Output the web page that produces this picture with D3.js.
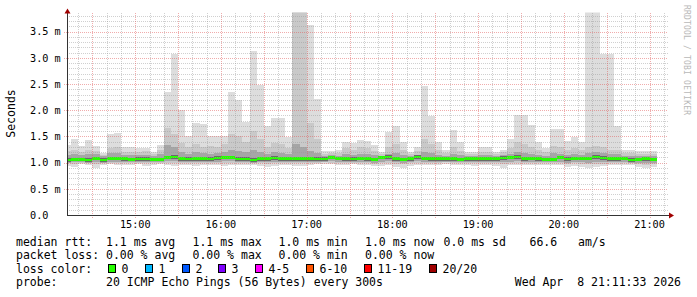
<!DOCTYPE html>
<html>
<head>
<meta charset="utf-8">
<style>
body { margin: 0; background: #fff; }
svg text { font-family: "DejaVu Sans Mono", monospace; fill: #000; }
.minor { stroke: rgba(150,150,150,0.45); stroke-dasharray: 1,1; shape-rendering: crispEdges; }
.major { stroke: rgba(225,90,90,0.5); stroke-dasharray: 1,1; shape-rendering: crispEdges; }
.axisLine { stroke: #333; shape-rendering: crispEdges; }
.smoke { shape-rendering: crispEdges; }
</style>
</head>
<body>
<div id="vis"></div>
<script src="https://cdn.jsdelivr.net/npm/d3@7"></script>
<script>
// time window and 5 minute rows
var startTime = new Date(2026, 3, 8, 14, 10);
var stepMinutes = 5;
var viewStart = new Date(2026, 3, 8, 14, 12, 15);
var viewEnd = new Date(2026, 3, 8, 21, 12, 15);
var hourLabels = ["15:00", "16:00", "17:00", "18:00", "19:00", "20:00", "21:00"];
var yTicks = [0, 0.5, 1.0, 1.5, 2.0, 2.5, 3.0, 3.5];

// median rtt (ms), one value per 5 minute row
var median = [1.05,1.062,1.062,1.05,1.081,1.05,1.081,1.081,1.075,1.062,
  1.069,1.069,1.062,1.062,1.10,1.107,1.075,1.069,1.075,1.075,
  1.069,1.088,1.10,1.10,1.069,1.069,1.05,1.075,1.075,1.088,
  1.075,1.075,1.075,1.075,1.075,1.069,1.069,1.10,1.081,1.075,
  1.069,1.081,1.075,1.056,1.10,1.107,1.075,1.056,1.075,1.107,
  1.081,1.075,1.075,1.075,1.075,1.056,1.075,1.075,1.075,1.075,
  1.075,1.088,1.094,1.107,1.075,1.081,1.075,1.062,1.062,1.10,
  1.069,1.081,1.081,1.081,1.107,1.088,1.075,1.075,1.081,1.05,
  1.062,1.075,1.056];

// smoke: outer band (min / max ping)
var outerLow = [0.93,0.92,0.97,0.96,0.90,0.95,0.97,0.96,0.95,0.96,
  0.97,0.93,0.95,0.97,0.95,0.94,0.96,0.96,0.93,0.95,
  0.96,0.95,0.94,0.96,0.96,0.95,0.96,0.93,0.92,0.93,
  0.96,0.96,0.94,0.93,0.96,0.97,0.97,0.97,0.96,0.96,
  0.97,0.96,0.95,0.93,0.93,0.95,0.92,0.90,0.94,0.96,
  0.95,0.96,0.96,0.97,0.95,0.96,0.95,0.94,0.96,0.96,
  0.93,0.89,0.95,0.96,0.95,0.96,0.96,0.95,0.95,0.96,
  0.92,0.93,0.92,0.90,0.91,0.93,0.95,0.96,0.95,0.95,
  0.91,0.89,0.91];
var outerHigh = [1.34,1.45,1.32,1.43,1.32,1.19,1.55,1.56,1.29,1.29,
  1.27,1.27,1.20,1.34,2.35,3.07,2.00,1.51,1.76,1.74,
  1.51,1.51,1.51,2.35,2.19,1.78,3.13,2.48,1.70,1.86,
  1.86,1.48,3.90,3.90,3.63,2.21,1.22,1.23,1.24,1.40,
  1.37,1.43,1.41,1.33,1.21,1.58,1.70,1.40,1.21,1.30,
  2.47,1.89,1.39,1.25,1.62,1.39,1.20,1.20,1.30,1.30,
  1.21,1.24,1.45,1.91,1.91,1.72,1.40,1.27,1.64,1.64,
  1.41,1.48,1.39,3.90,3.90,3.07,3.07,1.70,1.24,1.24,
  1.22,1.22,1.22];

// smoke: second band
var midLow = [0.99,0.98,1.0,0.99,0.97,0.99,1.0,1.0,0.99,1.0,
  1.0,0.99,0.99,1.0,1.0,0.99,1.0,1.0,0.99,1.0,
  1.0,1.0,0.99,1.0,1.0,0.99,1.0,0.99,0.98,0.99,
  1.0,1.0,0.99,0.99,1.0,1.0,1.01,1.0,1.0,1.0,
  1.0,1.0,0.99,0.98,0.99,0.99,0.98,0.97,0.99,1.0,
  1.0,1.0,1.0,1.01,0.99,1.0,0.99,0.99,1.0,1.0,
  0.99,0.97,0.99,1.0,0.99,1.0,1.0,0.99,0.99,1.0,
  0.98,0.99,0.98,0.97,0.98,0.98,0.99,1.0,0.99,0.99,
  0.97,0.96,0.97];
var midHigh = [1.22,1.25,1.20,1.24,1.22,1.15,1.28,1.30,1.20,1.20,
  1.20,1.22,1.17,1.24,1.66,1.55,1.38,1.30,1.35,1.30,
  1.32,1.30,1.35,1.55,1.50,1.40,1.60,1.45,1.30,1.38,
  1.35,1.28,3.90,3.90,1.75,1.45,1.17,1.18,1.18,1.28,
  1.25,1.30,1.28,1.22,1.16,1.30,1.35,1.25,1.16,1.22,
  1.45,1.35,1.25,1.18,1.30,1.22,1.16,1.16,1.20,1.20,
  1.17,1.20,1.27,1.40,1.35,1.30,1.25,1.20,1.32,1.30,
  1.25,1.28,1.24,1.30,1.32,1.30,1.25,1.25,1.18,1.18,
  1.17,1.17,1.17];

// smoke: third band
var innerLow = [1.0,1.01,1.01,1.0,1.02,1.0,1.02,1.02,1.01,1.01,
  1.01,1.01,1.01,1.01,1.03,1.03,1.02,1.01,1.01,1.02,
  1.01,1.02,1.03,1.03,1.01,1.01,1.0,1.01,1.01,1.02,
  1.02,1.02,1.01,1.01,1.02,1.02,1.02,1.03,1.02,1.02,
  1.02,1.02,1.01,1.0,1.02,1.03,1.01,1.0,1.01,1.03,
  1.02,1.02,1.02,1.02,1.01,1.01,1.01,1.01,1.02,1.02,
  1.01,1.01,1.02,1.03,1.01,1.02,1.02,1.01,1.01,1.02,
  1.0,1.01,1.01,1.0,1.02,1.01,1.01,1.02,1.02,1.0,
  1.0,1.0,1.0];
var innerHigh = [1.15,1.17,1.15,1.16,1.16,1.12,1.18,1.19,1.15,1.14,
  1.14,1.15,1.13,1.16,1.33,1.30,1.20,1.17,1.20,1.18,
  1.16,1.18,1.20,1.25,1.22,1.20,1.25,1.20,1.17,1.20,
  1.18,1.16,1.35,1.30,1.22,1.18,1.12,1.14,1.13,1.16,
  1.15,1.17,1.16,1.14,1.13,1.17,1.18,1.15,1.12,1.15,
  1.20,1.18,1.15,1.13,1.16,1.14,1.12,1.12,1.14,1.14,
  1.12,1.14,1.16,1.20,1.18,1.17,1.15,1.13,1.18,1.17,
  1.15,1.16,1.15,1.18,1.20,1.18,1.16,1.16,1.13,1.13,
  1.13,1.13,1.12];

// smoke: inner (darkest) band
var coreLow = [1.02,1.03,1.03,1.02,1.05,1.02,1.05,1.05,1.04,1.03,
  1.04,1.04,1.03,1.03,1.06,1.07,1.04,1.04,1.04,1.04,
  1.04,1.05,1.06,1.06,1.04,1.04,1.02,1.04,1.04,1.05,
  1.04,1.04,1.04,1.04,1.04,1.04,1.04,1.06,1.05,1.04,
  1.04,1.05,1.04,1.03,1.06,1.07,1.04,1.03,1.04,1.07,
  1.05,1.04,1.04,1.04,1.04,1.03,1.04,1.04,1.04,1.04,
  1.04,1.05,1.06,1.07,1.04,1.05,1.04,1.03,1.03,1.06,
  1.04,1.05,1.05,1.05,1.07,1.05,1.04,1.04,1.05,1.02,
  1.03,1.04,1.03];
var coreHigh = [1.08,1.09,1.09,1.08,1.11,1.08,1.11,1.11,1.10,1.09,
  1.10,1.10,1.09,1.09,1.13,1.14,1.10,1.10,1.10,1.10,
  1.10,1.12,1.13,1.13,1.10,1.10,1.08,1.10,1.10,1.12,
  1.10,1.10,1.11,1.11,1.10,1.10,1.10,1.13,1.11,1.10,
  1.10,1.11,1.10,1.09,1.13,1.14,1.10,1.09,1.10,1.14,
  1.11,1.10,1.10,1.10,1.10,1.09,1.10,1.10,1.10,1.10,
  1.10,1.12,1.12,1.14,1.10,1.11,1.10,1.09,1.09,1.13,
  1.10,1.11,1.11,1.11,1.14,1.12,1.10,1.10,1.11,1.08,
  1.09,1.10,1.09];

// legend
var medianStats = ["1.1 ms avg", "1.1 ms max", "1.0 ms min", "1.0 ms now", "0.0 ms sd", "66.6   am/s"];
var lossStats = ["0.00 % avg", "0.00 % max", "0.00 % min", "0.00 % now"];
var lossLabels = ["0", "1", "2", "3", "4-5", "6-10", "11-19", "20/20"];
var lossColors = ["#26ff00", "#00b8ff", "#0059ff", "#7e00ff", "#ff00ff", "#ff5500", "#ff0000", "#a00000"];
var probeText = "20 ICMP Echo Pings (56 Bytes) every 300s";
var stampText = "Wed Apr  8 21:11:33 2026";

var W = 697, H = 297;
var plotLeft = 67, plotRight = 667, plotTop = 12.5, plotBottom = 215;

var svg = d3.select("#vis").append("svg")
    .attr("width", W)
    .attr("height", H)
    .style("display", "block");

var x = d3.scaleTime().domain([viewStart, viewEnd]).range([plotLeft, plotRight]);
var y = d3.scaleLinear().domain([0, 3.866]).range([plotBottom, plotTop]);

svg.append("clipPath").attr("id", "plot")
  .append("rect").attr("x", plotLeft).attr("y", plotTop)
  .attr("width", plotRight + 1 - plotLeft).attr("height", plotBottom - plotTop);

// rows with a closing point so the steps end at the last row
var rows = median.map(function(m, i) { return { t: d3.timeMinute.offset(startTime, i * stepMinutes), i: i }; });
rows.push({ t: d3.timeMinute.offset(startTime, median.length * stepMinutes), i: median.length - 1 });

function band(lo, hi) {
  return d3.area().curve(d3.curveStepAfter)
    .x(function(d) { return x(d.t); })
    .y0(function(d) { return y(lo[d.i]); })
    .y1(function(d) { return y(hi[d.i]); });
}

var g = svg.append("g").attr("clip-path", "url(#plot)");
var bands = [
  [outerLow, outerHigh, "#dddddd"],
  [midLow, midHigh, "#c9c9c9"],
  [innerLow, innerHigh, "#a6a6a6"],
  [coreLow, coreHigh, "#6a6a6a"]
];
bands.forEach(function(b) {
  g.append("path").attr("class", "smoke").attr("d", band(b[0], b[1])(rows)).attr("fill", b[2]);
});

// median line coloured by loss (all rows had 0 loss)
g.append("path").attr("class", "smoke")
  .attr("d", d3.area().curve(d3.curveStepAfter)
    .x(function(d) { return x(d.t); })
    .y0(function(d) { return y(median[d.i]) + 1.2; })
    .y1(function(d) { return y(median[d.i]) - 1.2; })(rows))
  .attr("fill", lossColors[0]);

// grid
var yMinor = d3.range(1, 39).map(function(k) { return k / 10; }).filter(function(v) { return Math.round(v * 10) % 5 !== 0; });
svg.selectAll(".hminor").data(yMinor).enter().append("line")
  .attr("class", "minor")
  .attr("x1", plotLeft).attr("x2", plotRight + 1)
  .attr("y1", function(d) { return Math.round(y(d)) + 0.5; })
  .attr("y2", function(d) { return Math.round(y(d)) + 0.5; });
svg.selectAll(".hmajor").data(yTicks.slice(1)).enter().append("line")
  .attr("class", "major")
  .attr("x1", plotLeft - 3).attr("x2", plotRight + 1)
  .attr("y1", function(d) { return Math.round(y(d)) + 0.5; })
  .attr("y2", function(d) { return Math.round(y(d)) + 0.5; });

var tMinor = d3.timeMinute.every(10).range(viewStart, viewEnd).filter(function(d) { return d.getMinutes() % 30 !== 0; });
var tMajor = d3.timeMinute.every(30).range(viewStart, viewEnd);
svg.selectAll(".vminor").data(tMinor).enter().append("line")
  .attr("class", "minor")
  .attr("y1", plotTop).attr("y2", plotBottom)
  .attr("x1", function(d) { return Math.round(x(d)) + 0.5; })
  .attr("x2", function(d) { return Math.round(x(d)) + 0.5; });
svg.selectAll(".vmajor").data(tMajor).enter().append("line")
  .attr("class", "major")
  .attr("y1", plotTop).attr("y2", plotBottom + 3)
  .attr("x1", function(d) { return Math.round(x(d)) + 0.5; })
  .attr("x2", function(d) { return Math.round(x(d)) + 0.5; });

// axes
svg.append("line").attr("class", "axisLine")
  .attr("x1", plotLeft + 0.5).attr("x2", plotLeft + 0.5).attr("y1", plotTop).attr("y2", plotBottom + 0.5);
svg.append("line").attr("class", "axisLine")
  .attr("x1", plotLeft).attr("x2", plotRight + 3).attr("y1", plotBottom + 0.5).attr("y2", plotBottom + 0.5);
svg.append("path").attr("fill", "#a00000")
  .attr("d", "M" + (plotLeft + 0.5) + "," + (plotTop - 4) + "L" + (plotLeft + 3.5) + "," + (plotTop + 1) +
    "L" + (plotLeft - 2.5) + "," + (plotTop + 1) + "Z");
svg.append("path").attr("fill", "#a00000")
  .attr("d", "M" + (plotRight + 7) + "," + (plotBottom + 0.5) + "L" + (plotRight + 2) + "," + (plotBottom - 2.5) +
    "L" + (plotRight + 2) + "," + (plotBottom + 3.5) + "Z");

// tick labels
svg.selectAll(".ylab").data(yTicks).enter().append("text")
  .attr("x", 30)
  .attr("y", function(d) { return y(d) + 3.7; })
  .style("font-size", "10.2px")
  .text(function(d) { return d === 0 ? "0.0" : d3.format(".1f")(d) + " m"; });

var parseHour = d3.timeParse("%Y-%m-%d %H:%M");
svg.selectAll(".xlab").data(hourLabels).enter().append("text")
  .attr("x", function(d) { return x(parseHour("2026-04-08 " + d)); })
  .attr("y", 227.5)
  .attr("text-anchor", "middle")
  .style("font-size", "10.2px")
  .text(function(d) { return d; });

svg.append("text")
  .attr("transform", "translate(15,113.5) rotate(-90)")
  .attr("text-anchor", "middle")
  .style("font-size", "11.5px")
  .text("Seconds");

svg.append("text")
  .attr("transform", "translate(684,5) rotate(90)")
  .attr("textLength", 110)
  .attr("lengthAdjust", "spacing")
  .style("font-size", "8px")
  .style("fill", "#b8b8b8")
  .text("RRDTOOL / TOBI OETIKER");

// legend lines
var legendFont = "11.5px";
var colX = [106, 192.5, 278.5, 365];
var leg = svg.append("g").style("font-size", legendFont);
leg.append("text").attr("x", 16).attr("y", 245.5).text("median rtt:");
medianStats.forEach(function(s, i) {
  var xs = i < 4 ? colX[i] : [443.5, 529.5][i - 4];
  leg.append("text").attr("x", xs).attr("y", 245.5).attr("xml:space", "preserve").text(s);
});
leg.append("text").attr("x", 16).attr("y", 259).text("packet loss:");
lossStats.forEach(function(s, i) {
  leg.append("text").attr("x", colX[i]).attr("y", 259).text(s);
});
leg.append("text").attr("x", 16).attr("y", 272.5).text("loss color:");
var boxX = [108.5, 145.5, 182.5, 218.5, 255.5, 306.5, 364.5, 429.5];
lossLabels.forEach(function(l, i) {
  leg.append("rect")
    .attr("x", boxX[i]).attr("y", 264.5).attr("width", 7).attr("height", 8)
    .attr("fill", lossColors[i]).attr("stroke", "#000").attr("stroke-width", 1);
  leg.append("text").attr("x", boxX[i] + 13).attr("y", 272.5).text(l);
});
leg.append("text").attr("x", 16).attr("y", 286).text("probe:");
leg.append("text").attr("x", colX[0]).attr("y", 286).text(probeText);
leg.append("text").attr("x", 681).attr("y", 286).attr("text-anchor", "end").attr("xml:space", "preserve").text(stampText);
</script>
</body>
</html>
